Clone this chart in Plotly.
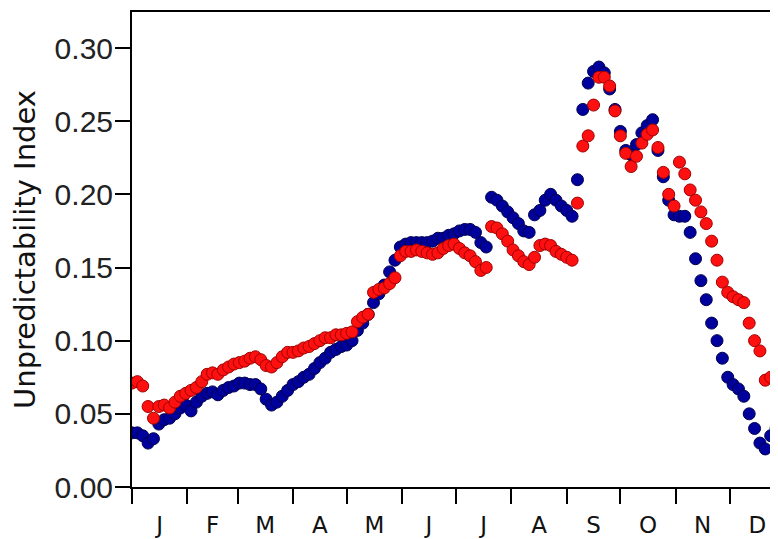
import plotly.graph_objects as go

# day of year (every 3rd day)
days = list(range(0, 361, 3))

blue_index = [
    0.037, 0.037, 0.035, 0.030, 0.033, 0.043, 0.046, 0.047, 0.050, 0.054,
    0.056, 0.052, 0.058, 0.062, 0.064, 0.065, 0.063, 0.066, 0.068, 0.069,
    0.071, 0.071, 0.070, 0.070, 0.067, 0.060, 0.056, 0.058, 0.062, 0.066,
    0.070, 0.072, 0.075, 0.077, 0.081, 0.085, 0.088, 0.092, 0.094, 0.096,
    0.097, 0.100, 0.107, 0.112, 0.118, 0.126, 0.132, 0.138, 0.147, 0.155,
    0.164, 0.166, 0.167, 0.167, 0.167, 0.167, 0.168, 0.170, 0.170, 0.172,
    0.173, 0.175, 0.176, 0.176, 0.174, 0.167, 0.164, 0.198, 0.196, 0.192,
    0.188, 0.184, 0.180, 0.175, 0.174, 0.186, 0.189, 0.196, 0.200, 0.196,
    0.192, 0.189, 0.185, 0.210, 0.258, 0.276, 0.284, 0.287, 0.283, 0.272,
    0.258, 0.243, 0.230, 0.227, 0.234, 0.242, 0.247, 0.251, 0.230, 0.212,
    0.196, 0.186, 0.185, 0.185, 0.174, 0.156, 0.141, 0.128, 0.112, 0.100,
    0.088, 0.075, 0.070, 0.067, 0.062, 0.050, 0.040, 0.030, 0.026, 0.035,
    0.040,
]

red_index = [
    0.071, 0.072, 0.069, 0.055, 0.047, 0.055, 0.056, 0.054, 0.058, 0.062,
    0.064, 0.066, 0.068, 0.072, 0.077, 0.078, 0.077, 0.080, 0.082, 0.084,
    0.085, 0.086, 0.088, 0.089, 0.087, 0.083, 0.082, 0.085, 0.089, 0.092,
    0.092, 0.093, 0.095, 0.096, 0.098, 0.100, 0.102, 0.102, 0.104, 0.104,
    0.105, 0.106, 0.113, 0.116, 0.118, 0.133, 0.135, 0.136, 0.139, 0.143,
    0.158, 0.161, 0.161, 0.162, 0.161, 0.160, 0.159, 0.160, 0.163, 0.165,
    0.166, 0.163, 0.160, 0.158, 0.154, 0.148, 0.150, 0.178, 0.177, 0.173,
    0.168, 0.162, 0.158, 0.154, 0.152, 0.157, 0.165, 0.166, 0.165, 0.161,
    0.159, 0.157, 0.155, 0.194, 0.233, 0.240, 0.261, 0.280, 0.280, 0.274,
    0.257, 0.240, 0.228, 0.219, 0.226, 0.235, 0.241, 0.244, 0.232, 0.215,
    0.200, 0.192, 0.222, 0.214, 0.203, 0.196, 0.188, 0.180, 0.168, 0.155,
    0.140, 0.133, 0.130, 0.128, 0.126, 0.112, 0.100, 0.093, 0.073, 0.075,
    0.076,
]

month_starts = [0, 31, 59, 90, 120, 151, 181, 212, 243, 273, 304, 334]
month_mids = [15.5, 45, 74.5, 105, 135.5, 166, 196.5, 227.5, 258, 288.5, 319, 349.5]
month_labels = ["J", "F", "M", "A", "M", "J", "J", "A", "S", "O", "N", "D"]
y_ticks = [0.00, 0.05, 0.10, 0.15, 0.20, 0.25, 0.30]

fig = go.Figure()
fig.add_trace(go.Scatter(
    x=days, y=blue_index, mode="markers", name="blue",
    marker=dict(size=12, color="#00009C", line=dict(color="#000050", width=1)),
))
fig.add_trace(go.Scatter(
    x=days, y=red_index, mode="markers", name="red",
    marker=dict(size=12, color="#FF1010", line=dict(color="#A00000", width=1)),
))

# page body has an 8px margin, so the figure is 8px smaller and offsets shifted
fig.update_layout(
    width=770, height=531,
    margin=dict(l=124, r=0, t=4, b=52),
    paper_bgcolor="white", plot_bgcolor="white",
    showlegend=False,
    xaxis=dict(
        range=[0, 361.1], showgrid=False, zeroline=False, automargin=False,
        showline=True, linecolor="black", linewidth=2, mirror=True,
        tickmode="array", tickvals=month_mids, ticktext=month_labels,
        ticks="outside", ticklen=16, tickcolor="rgba(0,0,0,0)",
        tickfont=dict(family="DejaVu Sans", size=23, color="#111"),
        minor=dict(tickmode="array", tickvals=month_starts, ticks="outside",
                   ticklen=15, tickwidth=2, tickcolor="black", showgrid=False),
    ),
    yaxis=dict(
        range=[0, 0.3246], showgrid=False, zeroline=False, automargin=False,
        showline=True, linecolor="black", linewidth=2, mirror=False,
        tickmode="array", tickvals=y_ticks, tickformat=".2f",
        ticks="outside", ticklen=15, tickwidth=2, tickcolor="black",
        ticklabelstandoff=-4,
        tickfont=dict(family="Liberation Sans", size=30, color="#222"),
        title=dict(text="Unpredictability Index", standoff=10,
                   font=dict(family="DejaVu Sans", size=29, color="#111")),
    ),
)

fig.write_html("out.html")
